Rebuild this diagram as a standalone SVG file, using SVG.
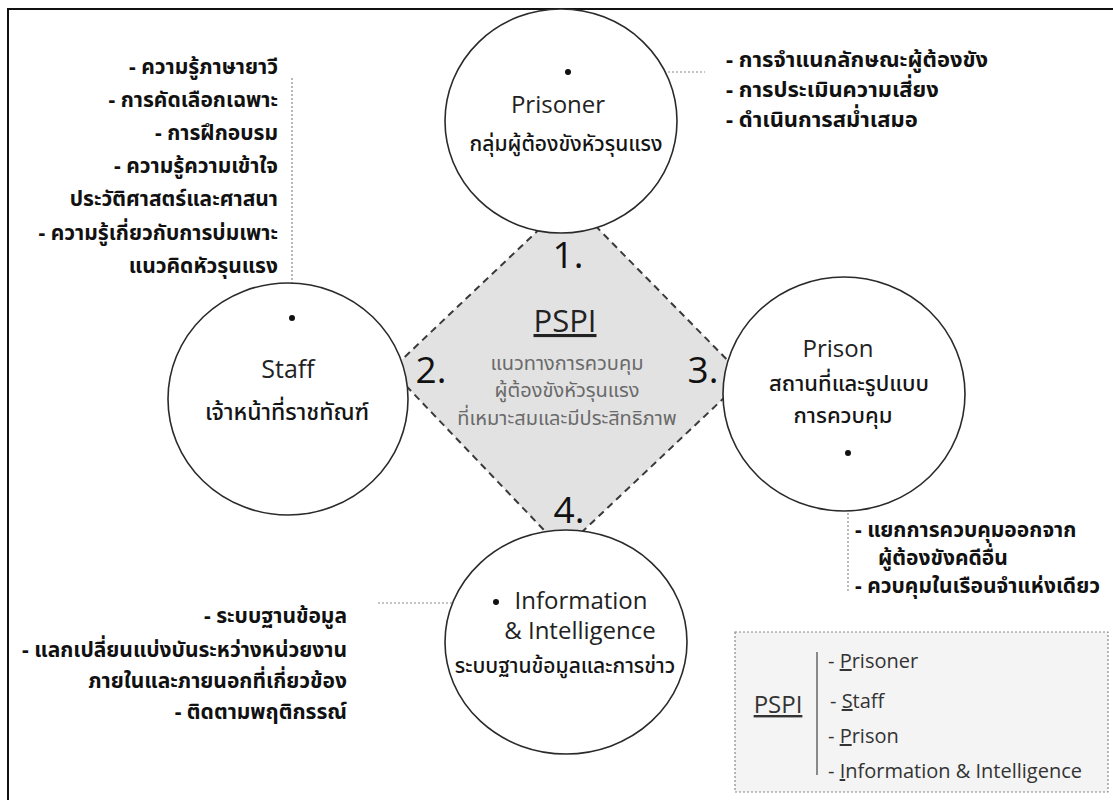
<svg xmlns="http://www.w3.org/2000/svg" width="1113" height="800" viewBox="0 0 1113 800">
<style>
.bg{fill:#ffffff}
.frame{stroke:#111;stroke-width:2;fill:none}
.circ{fill:#ffffff;stroke:#2a2a2a;stroke-width:1.6}
.diamond{fill:#e2e2e2;stroke:#3a3a3a;stroke-width:2;stroke-dasharray:7 5}
.dot{fill:#111}
.lead{stroke:#8a8a8a;stroke-width:1.2;stroke-dasharray:2 2;fill:none}
.en{font-family:"Open Sans","Noto Sans",sans-serif;fill:#222;font-size:24px}
.th{font-family:"Noto Sans","Noto Sans Thai",sans-serif;fill:#1a1a1a}
.lbl{font-size:21px;font-weight:500;fill:#151515}
.bul{font-size:21px;font-weight:bold;fill:#111}
.num{font-family:"Open Sans","Noto Sans",sans-serif;font-size:37px;fill:#111}
.gray{font-family:"Noto Sans","Noto Sans Thai",sans-serif;font-size:20px;fill:#6a6a6a}
.leg{font-family:"Open Sans","Noto Sans",sans-serif;font-size:20px;fill:#333}
.legbox{fill:#f4f4f4;stroke:#888;stroke-width:1.2;stroke-dasharray:2 2}
</style>
<rect class="bg" x="0" y="0" width="1113" height="800"/>
<path class="frame" d="M8 800 V9 H1113"/>

<g id="center">
  <polygon class="diamond" points="570,200 745,378 563,550 391,370"/>
</g>

<g id="connectors">
  <line class="lead" x1="292" y1="78" x2="292" y2="318"/>
  <line class="lead" x1="568" y1="72" x2="705" y2="72"/>
  <line class="lead" x1="848" y1="453" x2="848" y2="592"/>
  <line class="lead" x1="378" y1="603" x2="496" y2="603"/>
</g>

<g id="prisoner">
  <ellipse class="circ" cx="561" cy="121" rx="116" ry="112"/>
  <circle class="dot" cx="568" cy="72" r="3"/>
  <text class="en" x="558" y="113" text-anchor="middle">Prisoner</text>
  <text class="th lbl" x="566" y="151" text-anchor="middle">กลุ่มผู้ต้องขังหัวรุนแรง</text>
</g>

<g id="staff">
  <ellipse class="circ" cx="288" cy="399" rx="120" ry="116"/>
  <circle class="dot" cx="292" cy="318" r="3"/>
  <text class="en" x="288" y="378" text-anchor="middle" style="font-size:25px">Staff</text>
  <text class="th lbl" x="287" y="420" text-anchor="middle" style="font-size:23px">เจ้าหน้าที่ราชทัณฑ์</text>
</g>

<g id="prison">
  <ellipse class="circ" cx="844" cy="394" rx="121" ry="117"/>
  <circle class="dot" cx="848" cy="453" r="3"/>
  <text class="en" x="838" y="357" text-anchor="middle">Prison</text>
  <text class="th lbl" x="849" y="391" text-anchor="middle" style="font-size:22px">สถานที่และรูปแบบ</text>
  <text class="th lbl" x="843" y="423" text-anchor="middle" style="font-size:22px">การควบคุม</text>
</g>

<g id="information">
  <ellipse class="circ" cx="566" cy="642" rx="121" ry="112"/>
  <circle class="dot" cx="496" cy="602" r="3"/>
  <text class="en" x="581" y="609" text-anchor="middle">Information</text>
  <text class="en" x="580" y="639" text-anchor="middle">&amp; Intelligence</text>
  <text class="th lbl" x="565" y="673" text-anchor="middle">ระบบฐานข้อมูลและการข่าว</text>
</g>

<g id="pspi-labels">
  <text class="num" x="568" y="268" text-anchor="middle">1.</text>
  <text class="num" x="431" y="383" text-anchor="middle">2.</text>
  <text class="num" x="703" y="383" text-anchor="middle">3.</text>
  <text class="num" x="569" y="523" text-anchor="middle">4.</text>
  <text class="en" x="565" y="332" text-anchor="middle" style="font-size:31px;text-decoration:underline">PSPI</text>
  <text class="gray" x="567" y="370" text-anchor="middle">แนวทางการควบคุม</text>
  <text class="gray" x="567" y="397" text-anchor="middle">ผู้ต้องขังหัวรุนแรง</text>
  <text class="gray" x="567" y="425" text-anchor="middle">ที่เหมาะสมและมีประสิทธิภาพ</text>
</g>

<g id="staff-notes" class="th bul" text-anchor="end">
  <text x="278" y="74">-  ความรู้ภาษายาวี</text>
  <text x="278" y="107">-  การคัดเลือกเฉพาะ</text>
  <text x="278" y="140">-  การฝึกอบรม</text>
  <text x="278" y="173">-  ความรู้ความเข้าใจ</text>
  <text x="278" y="206">ประวัติศาสตร์และศาสนา</text>
  <text x="278" y="240">-  ความรู้เกี่ยวกับการบ่มเพาะ</text>
  <text x="278" y="273">แนวคิดหัวรุนแรง</text>
</g>

<g id="prisoner-notes" class="th bul" style="font-size:22px">
  <text x="726" y="67">-  การจำแนกลักษณะผู้ต้องขัง</text>
  <text x="726" y="97">-  การประเมินความเสี่ยง</text>
  <text x="726" y="127">-  ดำเนินการสม่ำเสมอ</text>
</g>

<g id="prison-notes" class="th bul">
  <text x="855" y="537">-  แยกการควบคุมออกจาก</text>
  <text x="878" y="565">ผู้ต้องขังคดีอื่น</text>
  <text x="855" y="593">-  ควบคุมในเรือนจำแห่งเดียว</text>
</g>

<g id="info-notes" class="th bul" text-anchor="end">
  <text x="347" y="623">-  ระบบฐานข้อมูล</text>
  <text x="347" y="657">-  แลกเปลี่ยนแบ่งบันระหว่างหน่วยงาน</text>
  <text x="347" y="688">ภายในและภายนอกที่เกี่ยวข้อง</text>
  <text x="347" y="719">-  ติดตามพฤติกรรณ์</text>
</g>

<g id="legend">
  <rect class="legbox" x="735" y="632" width="373" height="160"/>
  <line x1="817" y1="652" x2="817" y2="775" stroke="#666" stroke-width="1.5"/>
  <text class="leg" x="778" y="713" text-anchor="middle" style="font-size:24px;text-decoration:underline">PSPI</text>
  <text class="leg" x="828" y="668">- <tspan text-decoration="underline">P</tspan>risoner</text>
  <text class="leg" x="830" y="708">- <tspan text-decoration="underline">S</tspan>taff</text>
  <text class="leg" x="828" y="743">- <tspan text-decoration="underline">P</tspan>rison</text>
  <text class="leg" x="828" y="778">- <tspan text-decoration="underline">I</tspan>nformation &amp; Intelligence</text>
</g>
</svg>
